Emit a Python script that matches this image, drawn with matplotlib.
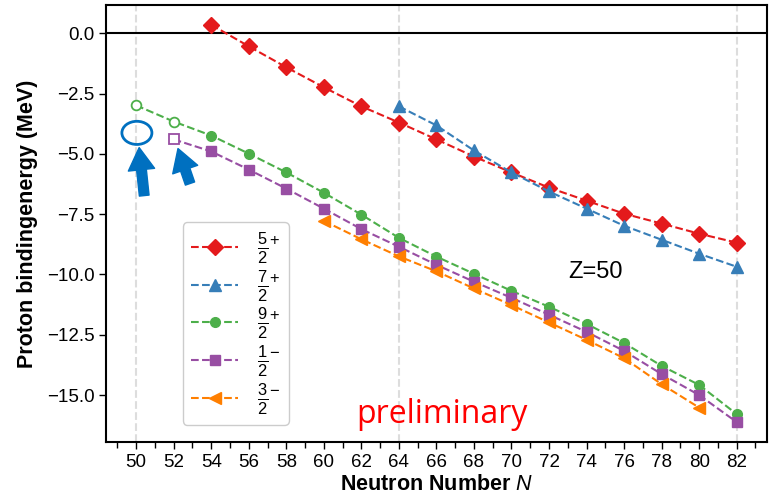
import matplotlib
matplotlib.use("Agg")
import matplotlib.pyplot as plt
from matplotlib.patches import Ellipse
from matplotlib.ticker import MultipleLocator

plt.rcParams['font.family'] = ['Liberation Sans', 'DejaVu Sans']
plt.rcParams['mathtext.fontset'] = 'custom'
plt.rcParams['mathtext.rm'] = 'Liberation Sans'
plt.rcParams['mathtext.it'] = 'Liberation Sans:italic'
plt.rcParams['mathtext.bf'] = 'Liberation Sans:bold'

# ---- data ----
N_52p = [54, 56, 58, 60, 62, 64, 66, 68, 70, 72, 74, 76, 78, 80, 82]
E_52p = [0.35, -0.54, -1.41, -2.24, -3.03, -3.70, -4.40, -5.11, -5.77, -6.40, -6.94, -7.48, -7.89, -8.31, -8.68]

N_72p = [64, 66, 68, 70, 72, 74, 76, 78, 80, 82]
E_72p = [-3.03, -3.82, -4.86, -5.77, -6.56, -7.27, -7.98, -8.56, -9.14, -9.68]

N_92p = [50, 52, 54, 56, 58, 60, 62, 64, 66, 68, 70, 72, 74, 76, 78, 80, 82]
E_92p = [-2.99, -3.66, -4.24, -4.99, -5.77, -6.61, -7.52, -8.48, -9.26, -9.97, -10.68, -11.34, -12.05, -12.84, -13.79, -14.58, -15.79]

N_12m = [52, 54, 56, 58, 60, 62, 64, 66, 68, 70, 72, 74, 76, 78, 80, 82]
E_12m = [-4.40, -4.90, -5.65, -6.44, -7.27, -8.12, -8.85, -9.60, -10.30, -10.97, -11.67, -12.38, -13.17, -14.13, -15.00, -16.12]

N_32m = [60, 62, 64, 66, 68, 70, 72, 74, 76, 78, 80]
E_32m = [-7.78, -8.54, -9.25, -9.87, -10.58, -11.27, -11.99, -12.71, -13.47, -14.55, -15.52]

open_N_92p = [50, 52]
open_N_12m = [52]

labels = [r'$\frac{5}{2}^{+}$', r'$\frac{7}{2}^{+}$', r'$\frac{9}{2}^{+}$',
          r'$\frac{1}{2}^{-}$', r'$\frac{3}{2}^{-}$']
xticks = list(range(50, 83, 2))
grid_N = [50, 64, 82]

colors = ['#e41a1c', '#377eb8', '#4daf4a', '#984ea3', '#ff7f00']
markers = ['D', '^', 'o', 's', '<']
msizes = [8, 8, 7, 7.5, 8]

fig = plt.figure(figsize=(7.69, 4.96), dpi=100)
ax = fig.add_axes([0.138, 0.109, 0.859, 0.881])

for n in grid_N:
    ax.axvline(n, color='#dddddd', ls='--', lw=1.5, zorder=0)
ax.axhline(0, color='black', lw=1.5, zorder=1)

series = [(N_52p, E_52p, []), (N_72p, E_72p, []), (N_92p, E_92p, open_N_92p),
          (N_12m, E_12m, open_N_12m), (N_32m, E_32m, [])]
for (N, E, opn), c, m, ms, lab in zip(series, colors, markers, msizes, labels):
    filled = [i for i, n in enumerate(N) if n not in opn]
    ax.plot(N, E, ls='--', color=c, lw=1.5, marker=m, ms=ms, markevery=filled,
            label=lab, zorder=3)
    opi = [i for i, n in enumerate(N) if n in opn]
    if opi:
        ax.plot([N[i] for i in opi], [E[i] for i in opi], ls='none', marker=m,
                ms=ms, markerfacecolor='white', markeredgecolor=c, mew=1.3, zorder=4)

ax.set_xlim(48.4, 83.6)
ax.set_xticks(xticks)
ax.xaxis.set_minor_locator(MultipleLocator(1))
ax.yaxis.set_major_locator(MultipleLocator(2.5))
ax.tick_params(axis='both', which='both', labelsize=13.5, direction='out', length=5, width=1)
ax.tick_params(axis='x', which='minor', length=4)
for s in ax.spines.values():
    s.set_linewidth(1.5)

ax.set_xlabel(r'Neutron Number $N$', fontsize=15.5, fontweight='bold', labelpad=2)
ax.set_ylabel('Proton bindingenergy (MeV)', fontsize=15.5, fontweight='bold', labelpad=6)

leg = ax.legend(loc='upper left', bbox_to_anchor=(0.116, 0.503), borderaxespad=0,
                fontsize=17, handlelength=2.0, handletextpad=0.8, labelspacing=0.1,
                borderpad=0.35, framealpha=1, edgecolor='#cccccc')

ax.text(74.5, -9.89, 'Z=50', fontsize=17, ha='center', va='center')
ax.text(66.3, -15.8, 'preliminary', fontsize=23, color='red', ha='center', va='center',
        family='Open Sans')

blue = '#0070c0'
ax.add_patch(Ellipse((50.04, -4.13), 1.6, 0.96, fill=False, edgecolor=blue, lw=2, zorder=5))
for tip, tail in [((50.16, -4.74), (50.43, -6.73)), ((52.23, -4.78), (52.87, -6.23))]:
    ax.annotate('', xy=tip, xytext=tail,
                arrowprops=dict(arrowstyle='simple,head_length=1.6,head_width=1.9,tail_width=0.7',
                                mutation_scale=10, color=blue, shrinkA=0, shrinkB=0), zorder=5)

fig.savefig('out.png', dpi=100)
